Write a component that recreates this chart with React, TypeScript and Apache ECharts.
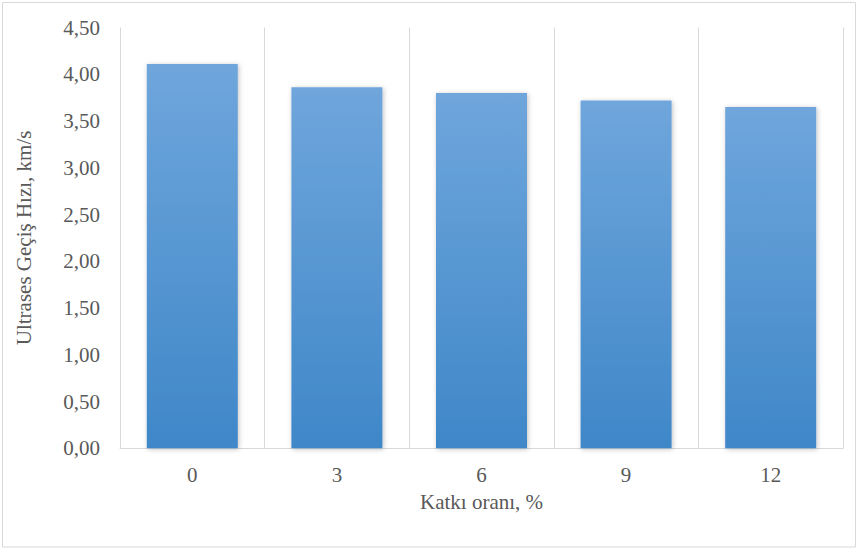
import React, { useEffect, useRef } from "react";
import * as echarts from "echarts";

// Katkı oranı (%) categories and ultrasonic pulse velocity values (km/s)
const categories: string[] = ["0", "3", "6", "9", "12"];
const velocities: number[] = [4.11, 3.86, 3.8, 3.72, 3.65];

const yMin = 0;
const yMax = 4.5;
const yStep = 0.5;

const xTitle = "Katkı oranı, %";
const yTitle = "Ultrases Geçiş Hızı, km/s";

const FONT = "'Liberation Serif', 'DejaVu Serif', serif";
const TEXT_COLOR = "#595959";
const LINE_COLOR = "#d9d9d9";

export default function App() {
  const ref = useRef<HTMLDivElement>(null);

  useEffect(() => {
    if (!ref.current) return;
    const chart = echarts.init(ref.current, null, { renderer: "svg" });
    chart.setOption({
      animation: false,
      backgroundColor: "#ffffff",
      textStyle: { fontFamily: FONT },
      graphic: [
        {
          type: "rect",
          shape: { x: 2.5, y: 2.5, width: 853, height: 544.5 },
          style: { fill: "none", stroke: LINE_COLOR, lineWidth: 1 },
          silent: true,
        },
      ],
      grid: { left: 120, right: 17, top: 27.5, bottom: 103.7 },
      xAxis: {
        type: "category",
        data: categories,
        name: xTitle,
        nameLocation: "middle",
        nameGap: 43.5,
        nameTextStyle: { fontFamily: FONT, fontSize: 21, color: TEXT_COLOR },
        axisLine: { show: true, lineStyle: { color: LINE_COLOR, width: 1 } },
        axisTick: { show: false },
        axisLabel: { fontFamily: FONT, fontSize: 21, color: TEXT_COLOR, margin: 16.5 },
        splitLine: { show: true, interval: 0, lineStyle: { color: LINE_COLOR, width: 1 } },
      },
      yAxis: {
        type: "value",
        min: yMin,
        max: yMax,
        interval: yStep,
        name: yTitle,
        nameLocation: "middle",
        nameGap: 86,
        nameRotate: 90,
        nameTextStyle: { fontFamily: FONT, fontSize: 21, color: TEXT_COLOR },
        axisLine: { show: false },
        axisTick: { show: false },
        splitLine: { show: false },
        axisLabel: {
          fontFamily: FONT,
          fontSize: 21,
          color: TEXT_COLOR,
          margin: 20,
          formatter: (v: number) => v.toFixed(2).replace(".", ","),
        },
      },
      series: [
        {
          type: "bar",
          data: velocities,
          barWidth: 91,
          itemStyle: {
            color: new echarts.graphic.LinearGradient(0, 0, 0, 1, [
              { offset: 0, color: "#6fa6dc" },
              { offset: 1, color: "#3f87c8" },
            ]),
            shadowColor: "rgba(0,0,0,0.25)",
            shadowBlur: 5,
            shadowOffsetX: 1,
            shadowOffsetY: 1,
          },
        },
      ],
    });
    return () => chart.dispose();
  }, []);

  return (
    <div
      ref={ref}
      style={{ position: "fixed", left: 0, top: 0, width: 860, height: 552 }}
    />
  );
}
